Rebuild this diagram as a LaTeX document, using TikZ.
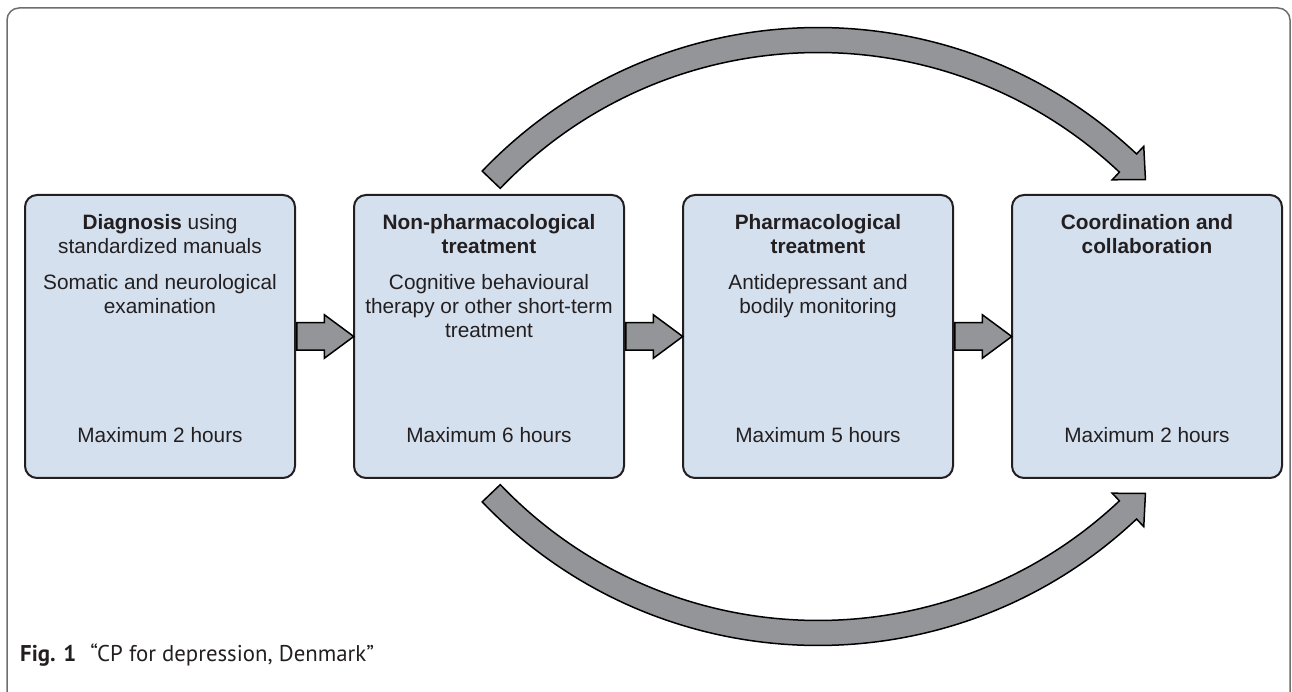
\documentclass[tikz,border=0pt]{standalone}
\usepackage{fontspec}
\setmainfont{Liberation Sans}
\newfontfamily\capfont{PT Sans}
\usetikzlibrary{positioning,calc,shapes.arrows}

\definecolor{boxblue}{RGB}{212,224,238}
\definecolor{arrowgray}{RGB}{147,149,152}
\definecolor{inkblack}{RGB}{35,31,32}
\definecolor{framegray}{RGB}{110,110,110}

\tikzset{
    stepbox/.style={draw=inkblack, line width=2pt, fill=boxblue, rounded corners=12pt,
        minimum width=270pt, minimum height=283pt, inner sep=0pt},
    boxtext/.style={align=center, inner sep=0pt, text=inkblack,
        font=\fontsize{20.8}{24}\selectfont},
    flowarrow/.style={single arrow, draw=black, line width=1.5pt, fill=arrowgray, anchor=tail,
        inner xsep=0pt, inner ysep=13pt, single arrow head extend=8pt, single arrow tip angle=73},
    bendarrow/.style={draw=black, line width=1.5pt, fill=arrowgray, line join=miter},
}

\begin{document}
\begin{tikzpicture}[x=1pt, y=1pt]
    \path[use as bounding box] (0,0) rectangle (1292,691);

    % Outer frame
    \draw[framegray, line width=1.5pt, rounded corners=12pt] (7,-10) -- (7,683) -- (1290,683) -- (1290,-10);

    % The four steps
    \node[stepbox] (diag) at (160,354.5) {};
    \node[stepbox, right=57pt of diag] (nonph) {};
    \node[stepbox, right=57pt of nonph] (pharm) {};
    \node[stepbox, right=57pt of pharm] (coord) {};

    \node[boxtext, below=20.5pt of diag.north] (diagtxt)
        {\textbf{Diagnosis} using\\standardized manuals\\[12pt]Somatic and neurological\\examination};
    \node[boxtext, below=20.5pt of nonph.north] (nonphtxt)
        {\textbf{Non-pharmacological}\\\textbf{treatment}\\[12pt]Cognitive behavioural\\therapy or other short-term\\treatment};
    \node[boxtext, below=20.5pt of pharm.north] (pharmtxt)
        {\textbf{Pharmacological}\\\textbf{treatment}\\[12pt]Antidepressant and\\bodily monitoring};
    \node[boxtext, below=20.5pt of coord.north] (coordtxt)
        {\textbf{Coordination and}\\\textbf{collaboration}};

    % Time limits
    \node[boxtext, anchor=base] (diagmax) at ([yshift=36.5pt]diag.south) {Maximum 2 hours};
    \node[boxtext, anchor=base] (nonphmax) at ([yshift=36.5pt]nonph.south) {Maximum 6 hours};
    \node[boxtext, anchor=base] (pharmmax) at ([yshift=36.5pt]pharm.south) {Maximum 5 hours};
    \node[boxtext, anchor=base] (coordmax) at ([yshift=36.5pt]coord.south) {Maximum 2 hours};

    % Straight arrows between the steps
    \node[flowarrow, minimum height=57pt] (arrA) at (diag.east) {};
    \node[flowarrow, minimum height=57pt] (arrB) at (nonph.east) {};
    \node[flowarrow, minimum height=57pt] (arrC) at (pharm.east) {};

    % Bent arrows from step 2 to step 4, above and below
    \coordinate (ctop) at ($(pharm.center)+(0,-155.5)$);
    \coordinate (cbot) at ($(pharm.center)+(0,155.5)$);
    \foreach \c/\s in {ctop/1, cbot/-1}
        \draw[bendarrow] ($(\c)+({\s*136.3}:464.5)$) arc[start angle={\s*136.3}, end angle={\s*46.7}, radius=464.5]
            -- ($(\c)+({\s*46.7}:475)$) -- ($(\c)+({\s*46.7}:452)+({-\s*43.3}:24)$) -- ($(\c)+({\s*46.7}:429)$)
            -- ($(\c)+({\s*46.7}:439.5)$) arc[start angle={\s*46.7}, end angle={\s*136.3}, radius=439.5] -- cycle;

    % Caption
    \node[anchor=base west, inner sep=0pt, text=inkblack, font=\capfont\fontsize{22.8}{26}\selectfont] (caption) at (20,30)
        {\textbf{Fig. 1}\hspace{14pt}“CP for depression, Denmark”};
\end{tikzpicture}
\end{document}
